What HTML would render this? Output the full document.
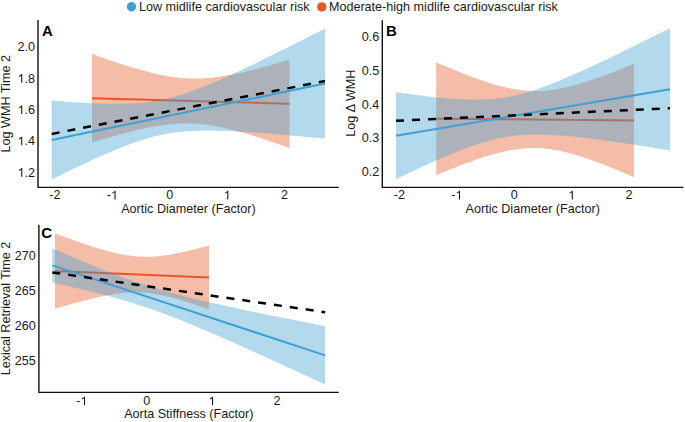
<!DOCTYPE html>
<html><head><meta charset="utf-8"><style>
html,body{margin:0;padding:0;background:#fff;}
body{width:685px;height:422px;overflow:hidden;}
svg{display:block;}
text{font-family:"Liberation Sans",sans-serif;font-size:12.6px;fill:#1a1a1a;}
</style></head><body>
<svg width="685" height="422" viewBox="0 0 685 422">
<rect width="685" height="422" fill="#fff"/>

<circle cx="131.5" cy="6.8" r="4.7" fill="#40A0D2"/>
<text x="138.9" y="10.8">Low midlife cardiovascular risk</text>
<circle cx="321.8" cy="6.9" r="4.7" fill="#E65725"/>
<text x="328.9" y="10.8">Moderate-high midlife cardiovascular risk</text>

<path d="M92.00,53.94 L95.29,55.12 L98.58,56.29 L101.88,57.45 L105.17,58.60 L108.46,59.74 L111.75,60.86 L115.04,61.97 L118.33,63.06 L121.62,64.14 L124.92,65.19 L128.21,66.23 L131.50,67.24 L134.79,68.22 L138.08,69.18 L141.38,70.11 L144.67,71.01 L147.96,71.87 L151.25,72.70 L154.54,73.49 L157.83,74.23 L161.12,74.92 L164.42,75.56 L167.71,76.15 L171.00,76.68 L174.29,77.15 L177.58,77.56 L180.88,77.90 L184.17,78.17 L187.46,78.37 L190.75,78.50 L194.04,78.56 L197.33,78.54 L200.62,78.46 L203.92,78.31 L207.21,78.09 L210.50,77.80 L213.79,77.46 L217.08,77.06 L220.38,76.60 L223.67,76.09 L226.96,75.54 L230.25,74.94 L233.54,74.30 L236.83,73.62 L240.12,72.91 L243.42,72.17 L246.71,71.40 L250.00,70.60 L253.29,69.77 L256.58,68.93 L259.88,68.06 L263.17,67.17 L266.46,66.26 L269.75,65.34 L273.04,64.41 L276.33,63.46 L279.62,62.49 L282.92,61.52 L286.21,60.53 L289.50,59.54 L289.50,148.06 L286.21,146.88 L282.92,145.71 L279.62,144.55 L276.33,143.40 L273.04,142.26 L269.75,141.14 L266.46,140.03 L263.17,138.94 L259.88,137.86 L256.58,136.81 L253.29,135.77 L250.00,134.76 L246.71,133.78 L243.42,132.82 L240.12,131.89 L236.83,130.99 L233.54,130.13 L230.25,129.30 L226.96,128.51 L223.67,127.77 L220.38,127.08 L217.08,126.44 L213.79,125.85 L210.50,125.32 L207.21,124.85 L203.92,124.44 L200.62,124.10 L197.33,123.83 L194.04,123.63 L190.75,123.50 L187.46,123.44 L184.17,123.46 L180.88,123.54 L177.58,123.69 L174.29,123.91 L171.00,124.20 L167.71,124.54 L164.42,124.94 L161.12,125.40 L157.83,125.91 L154.54,126.46 L151.25,127.06 L147.96,127.70 L144.67,128.38 L141.38,129.09 L138.08,129.83 L134.79,130.60 L131.50,131.40 L128.21,132.23 L124.92,133.07 L121.62,133.94 L118.33,134.83 L115.04,135.74 L111.75,136.66 L108.46,137.59 L105.17,138.54 L101.88,139.51 L98.58,140.48 L95.29,141.47 L92.00,142.46 Z" fill="#E65725" fill-opacity="0.4"/>
<line x1="92.0" y1="98.2" x2="289.5" y2="103.8" stroke="#E65725" stroke-width="2"/>
<path d="M51.70,100.60 L56.26,100.96 L60.81,101.31 L65.37,101.65 L69.92,101.97 L74.47,102.27 L79.03,102.56 L83.59,102.83 L88.14,103.07 L92.70,103.29 L97.25,103.48 L101.81,103.64 L106.36,103.75 L110.92,103.83 L115.47,103.86 L120.03,103.84 L124.58,103.76 L129.13,103.60 L133.69,103.37 L138.25,103.06 L142.80,102.65 L147.36,102.14 L151.91,101.52 L156.47,100.79 L161.02,99.94 L165.57,98.96 L170.13,97.87 L174.69,96.66 L179.24,95.33 L183.80,93.90 L188.35,92.37 L192.91,90.76 L197.46,89.06 L202.01,87.30 L206.57,85.46 L211.12,83.58 L215.68,81.64 L220.24,79.66 L224.79,77.63 L229.35,75.58 L233.90,73.49 L238.46,71.38 L243.01,69.24 L247.56,67.08 L252.12,64.91 L256.68,62.71 L261.23,60.50 L265.79,58.28 L270.34,56.04 L274.90,53.80 L279.45,51.54 L284.00,49.28 L288.56,47.00 L293.12,44.72 L297.67,42.43 L302.23,40.14 L306.78,37.84 L311.33,35.53 L315.89,33.22 L320.44,30.90 L325.00,28.58 L325.00,138.62 L320.44,138.18 L315.89,137.74 L311.33,137.31 L306.78,136.88 L302.23,136.46 L297.67,136.05 L293.12,135.64 L288.56,135.24 L284.00,134.84 L279.45,134.46 L274.90,134.08 L270.34,133.72 L265.79,133.36 L261.23,133.02 L256.68,132.69 L252.12,132.37 L247.56,132.08 L243.01,131.80 L238.46,131.54 L233.90,131.31 L229.35,131.10 L224.79,130.93 L220.24,130.78 L215.68,130.68 L211.12,130.62 L206.57,130.62 L202.01,130.66 L197.46,130.78 L192.91,130.96 L188.35,131.23 L183.80,131.58 L179.24,132.03 L174.69,132.58 L170.13,133.25 L165.57,134.04 L161.02,134.94 L156.47,135.97 L151.91,137.12 L147.36,138.38 L142.80,139.75 L138.25,141.22 L133.69,142.79 L129.13,144.44 L124.58,146.16 L120.03,147.96 L115.47,149.82 L110.92,151.73 L106.36,153.69 L101.81,155.68 L97.25,157.72 L92.70,159.79 L88.14,161.89 L83.59,164.01 L79.03,166.16 L74.47,168.33 L69.92,170.51 L65.37,172.71 L60.81,174.93 L56.26,177.16 L51.70,179.40 Z" fill="#40A0D2" fill-opacity="0.4"/>
<line x1="51.7" y1="140.0" x2="325.0" y2="83.6" stroke="#40A0D2" stroke-width="2"/>
<line x1="51.7" y1="133.9" x2="325.0" y2="81.1" stroke="#000" stroke-width="2.5" stroke-dasharray="8 8" stroke-dashoffset="0"/>
<path d="M38.0,20.0 V187.4 H338.8" fill="none" stroke="#111" stroke-width="1.4" stroke-linejoin="round"/>
<text x="35.10" y="176.67" text-anchor="end"><tspan style="fill:transparent">1</tspan>.2</text><path d="M0.3726,0 L0.2847,0 L0.2847,0.560 C0.2632,0.5396 0.2354,0.5193 0.2002,0.4988 C0.1655,0.4783 0.1343,0.4634 0.1089,0.4548 L0.1089,0.5398 C0.1548,0.5613 0.1948,0.5879 0.2295,0.6164 C0.2642,0.6456 0.2886,0.6739 0.3032,0.6880 L0.3726,0.6880 Z" fill="#1a1a1a" transform="translate(17.59,176.67) scale(12.6,-12.6)"/>
<text x="35.10" y="145.37" text-anchor="end"><tspan style="fill:transparent">1</tspan>.4</text><path d="M0.3726,0 L0.2847,0 L0.2847,0.560 C0.2632,0.5396 0.2354,0.5193 0.2002,0.4988 C0.1655,0.4783 0.1343,0.4634 0.1089,0.4548 L0.1089,0.5398 C0.1548,0.5613 0.1948,0.5879 0.2295,0.6164 C0.2642,0.6456 0.2886,0.6739 0.3032,0.6880 L0.3726,0.6880 Z" fill="#1a1a1a" transform="translate(17.59,145.37) scale(12.6,-12.6)"/>
<text x="35.10" y="114.07" text-anchor="end"><tspan style="fill:transparent">1</tspan>.6</text><path d="M0.3726,0 L0.2847,0 L0.2847,0.560 C0.2632,0.5396 0.2354,0.5193 0.2002,0.4988 C0.1655,0.4783 0.1343,0.4634 0.1089,0.4548 L0.1089,0.5398 C0.1548,0.5613 0.1948,0.5879 0.2295,0.6164 C0.2642,0.6456 0.2886,0.6739 0.3032,0.6880 L0.3726,0.6880 Z" fill="#1a1a1a" transform="translate(17.59,114.07) scale(12.6,-12.6)"/>
<text x="35.10" y="82.77" text-anchor="end"><tspan style="fill:transparent">1</tspan>.8</text><path d="M0.3726,0 L0.2847,0 L0.2847,0.560 C0.2632,0.5396 0.2354,0.5193 0.2002,0.4988 C0.1655,0.4783 0.1343,0.4634 0.1089,0.4548 L0.1089,0.5398 C0.1548,0.5613 0.1948,0.5879 0.2295,0.6164 C0.2642,0.6456 0.2886,0.6739 0.3032,0.6880 L0.3726,0.6880 Z" fill="#1a1a1a" transform="translate(17.59,82.77) scale(12.6,-12.6)"/>
<text x="35.10" y="51.47" text-anchor="end">2.0</text>
<text x="54.91" y="199.40" text-anchor="middle">-2</text>
<text x="112.33" y="199.40" text-anchor="middle">-<tspan style="fill:transparent">1</tspan></text><path d="M0.3726,0 L0.2847,0 L0.2847,0.560 C0.2632,0.5396 0.2354,0.5193 0.2002,0.4988 C0.1655,0.4783 0.1343,0.4634 0.1089,0.4548 L0.1089,0.5398 C0.1548,0.5613 0.1948,0.5879 0.2295,0.6164 C0.2642,0.6456 0.2886,0.6739 0.3032,0.6880 L0.3726,0.6880 Z" fill="#1a1a1a" transform="translate(110.93,199.40) scale(12.6,-12.6)"/>
<text x="169.75" y="199.40" text-anchor="middle">0</text>
<text x="227.17" y="199.40" text-anchor="middle"><tspan style="fill:transparent">1</tspan></text><path d="M0.3726,0 L0.2847,0 L0.2847,0.560 C0.2632,0.5396 0.2354,0.5193 0.2002,0.4988 C0.1655,0.4783 0.1343,0.4634 0.1089,0.4548 L0.1089,0.5398 C0.1548,0.5613 0.1948,0.5879 0.2295,0.6164 C0.2642,0.6456 0.2886,0.6739 0.3032,0.6880 L0.3726,0.6880 Z" fill="#1a1a1a" transform="translate(223.67,199.40) scale(12.6,-12.6)"/>
<text x="284.59" y="199.40" text-anchor="middle">2</text>
<text x="188.4" y="212.8" text-anchor="middle">Aortic Diameter (Factor)</text>
<text transform="translate(10.3,103.75) rotate(-90)" text-anchor="middle">Log WMH Time 2</text>
<text x="42.0" y="36.3" style="font-weight:bold;font-size:15px;fill:#000">A</text>
<path d="M436.20,62.22 L439.50,63.65 L442.79,65.07 L446.09,66.48 L449.39,67.87 L452.68,69.24 L455.98,70.59 L459.28,71.93 L462.57,73.24 L465.87,74.54 L469.17,75.80 L472.46,77.04 L475.76,78.25 L479.06,79.43 L482.35,80.58 L485.65,81.68 L488.95,82.75 L492.24,83.77 L495.54,84.74 L498.84,85.66 L502.13,86.52 L505.43,87.32 L508.73,88.06 L512.02,88.72 L515.32,89.31 L518.62,89.82 L521.91,90.24 L525.21,90.58 L528.51,90.83 L531.80,90.99 L535.10,91.05 L538.40,91.02 L541.69,90.90 L544.99,90.68 L548.29,90.38 L551.58,89.99 L554.88,89.52 L558.18,88.97 L561.47,88.35 L564.77,87.65 L568.07,86.89 L571.36,86.07 L574.66,85.20 L577.96,84.27 L581.25,83.30 L584.55,82.28 L587.85,81.22 L591.14,80.12 L594.44,78.99 L597.74,77.83 L601.03,76.64 L604.33,75.42 L607.63,74.18 L610.92,72.92 L614.22,71.63 L617.52,70.33 L620.81,69.01 L624.11,67.67 L627.41,66.32 L630.70,64.96 L634.00,63.58 L634.00,177.22 L630.70,175.78 L627.41,174.36 L624.11,172.96 L620.81,171.56 L617.52,170.19 L614.22,168.83 L610.92,167.49 L607.63,166.17 L604.33,164.87 L601.03,163.60 L597.74,162.35 L594.44,161.13 L591.14,159.94 L587.85,158.79 L584.55,157.67 L581.25,156.60 L577.96,155.57 L574.66,154.58 L571.36,153.65 L568.07,152.77 L564.77,151.96 L561.47,151.21 L558.18,150.53 L554.88,149.92 L551.58,149.39 L548.29,148.95 L544.99,148.59 L541.69,148.32 L538.40,148.14 L535.10,148.05 L531.80,148.06 L528.51,148.16 L525.21,148.35 L521.91,148.63 L518.62,149.00 L515.32,149.45 L512.02,149.98 L508.73,150.59 L505.43,151.27 L502.13,152.01 L498.84,152.82 L495.54,153.68 L492.24,154.59 L488.95,155.56 L485.65,156.57 L482.35,157.61 L479.06,158.70 L475.76,159.83 L472.46,160.98 L469.17,162.16 L465.87,163.37 L462.57,164.61 L459.28,165.87 L455.98,167.15 L452.68,168.44 L449.39,169.76 L446.09,171.09 L442.79,172.44 L439.50,173.80 L436.20,175.18 Z" fill="#E65725" fill-opacity="0.4"/>
<line x1="436.2" y1="118.7" x2="634.0" y2="120.4" stroke="#E65725" stroke-width="2"/>
<path d="M396.00,92.20 L400.57,92.85 L405.13,93.48 L409.70,94.10 L414.27,94.71 L418.83,95.29 L423.40,95.86 L427.97,96.40 L432.53,96.91 L437.10,97.40 L441.67,97.85 L446.23,98.26 L450.80,98.63 L455.37,98.96 L459.93,99.23 L464.50,99.43 L469.07,99.58 L473.63,99.64 L478.20,99.62 L482.77,99.51 L487.33,99.29 L491.90,98.96 L496.47,98.51 L501.03,97.94 L505.60,97.24 L510.17,96.41 L514.73,95.45 L519.30,94.37 L523.87,93.17 L528.43,91.85 L533.00,90.43 L537.57,88.92 L542.13,87.32 L546.70,85.64 L551.27,83.89 L555.83,82.08 L560.40,80.22 L564.97,78.31 L569.53,76.35 L574.10,74.36 L578.67,72.33 L583.23,70.27 L587.80,68.19 L592.37,66.08 L596.93,63.95 L601.50,61.81 L606.07,59.64 L610.63,57.46 L615.20,55.26 L619.77,53.06 L624.33,50.84 L628.90,48.61 L633.47,46.37 L638.03,44.12 L642.60,41.87 L647.17,39.61 L651.73,37.34 L656.30,35.06 L660.87,32.78 L665.43,30.50 L670.00,28.21 L670.00,150.39 L665.43,149.65 L660.87,148.91 L656.30,148.18 L651.73,147.45 L647.17,146.73 L642.60,146.01 L638.03,145.30 L633.47,144.60 L628.90,143.91 L624.33,143.23 L619.77,142.56 L615.20,141.90 L610.63,141.25 L606.07,140.61 L601.50,139.99 L596.93,139.39 L592.37,138.81 L587.80,138.25 L583.23,137.71 L578.67,137.20 L574.10,136.72 L569.53,136.28 L564.97,135.87 L560.40,135.50 L555.83,135.18 L551.27,134.92 L546.70,134.72 L542.13,134.59 L537.57,134.54 L533.00,134.57 L528.43,134.70 L523.87,134.93 L519.30,135.27 L514.73,135.73 L510.17,136.32 L505.60,137.04 L501.03,137.89 L496.47,138.86 L491.90,139.96 L487.33,141.18 L482.77,142.51 L478.20,143.94 L473.63,145.47 L469.07,147.08 L464.50,148.77 L459.93,150.52 L455.37,152.34 L450.80,154.21 L446.23,156.13 L441.67,158.09 L437.10,160.08 L432.53,162.12 L427.97,164.18 L423.40,166.26 L418.83,168.37 L414.27,170.51 L409.70,172.66 L405.13,174.82 L400.57,177.01 L396.00,179.20 Z" fill="#40A0D2" fill-opacity="0.4"/>
<line x1="396.0" y1="135.7" x2="670.0" y2="89.3" stroke="#40A0D2" stroke-width="2"/>
<line x1="396.0" y1="120.8" x2="670.0" y2="108.2" stroke="#000" stroke-width="2.5" stroke-dasharray="8 8" stroke-dashoffset="0"/>
<path d="M382.3,20.2 V187.4 H683.5" fill="none" stroke="#111" stroke-width="1.4" stroke-linejoin="round"/>
<text x="379.20" y="175.87" text-anchor="end">0.2</text>
<text x="379.20" y="142.20" text-anchor="end">0.3</text>
<text x="379.20" y="108.52" text-anchor="end">0.4</text>
<text x="379.20" y="74.85" text-anchor="end">0.5</text>
<text x="379.20" y="41.17" text-anchor="end">0.6</text>
<text x="399.30" y="199.40" text-anchor="middle">-2</text>
<text x="456.75" y="199.40" text-anchor="middle">-<tspan style="fill:transparent">1</tspan></text><path d="M0.3726,0 L0.2847,0 L0.2847,0.560 C0.2632,0.5396 0.2354,0.5193 0.2002,0.4988 C0.1655,0.4783 0.1343,0.4634 0.1089,0.4548 L0.1089,0.5398 C0.1548,0.5613 0.1948,0.5879 0.2295,0.6164 C0.2642,0.6456 0.2886,0.6739 0.3032,0.6880 L0.3726,0.6880 Z" fill="#1a1a1a" transform="translate(455.35,199.40) scale(12.6,-12.6)"/>
<text x="514.20" y="199.40" text-anchor="middle">0</text>
<text x="571.65" y="199.40" text-anchor="middle"><tspan style="fill:transparent">1</tspan></text><path d="M0.3726,0 L0.2847,0 L0.2847,0.560 C0.2632,0.5396 0.2354,0.5193 0.2002,0.4988 C0.1655,0.4783 0.1343,0.4634 0.1089,0.4548 L0.1089,0.5398 C0.1548,0.5613 0.1948,0.5879 0.2295,0.6164 C0.2642,0.6456 0.2886,0.6739 0.3032,0.6880 L0.3726,0.6880 Z" fill="#1a1a1a" transform="translate(568.15,199.40) scale(12.6,-12.6)"/>
<text x="629.10" y="199.40" text-anchor="middle">2</text>
<text x="532.75" y="212.8" text-anchor="middle">Aortic Diameter (Factor)</text>
<text transform="translate(355.06,103.15) rotate(-90)" text-anchor="middle">Log Δ WMH</text>
<text x="386.0" y="36.3" style="font-weight:bold;font-size:15px;fill:#000">B</text>
<path d="M55.00,233.26 L57.57,234.24 L60.13,235.21 L62.70,236.18 L65.27,237.14 L67.83,238.09 L70.40,239.03 L72.97,239.96 L75.53,240.88 L78.10,241.79 L80.67,242.69 L83.23,243.58 L85.80,244.45 L88.37,245.31 L90.93,246.16 L93.50,246.98 L96.07,247.79 L98.63,248.57 L101.20,249.33 L103.77,250.07 L106.33,250.79 L108.90,251.47 L111.47,252.12 L114.03,252.74 L116.60,253.33 L119.17,253.87 L121.73,254.38 L124.30,254.84 L126.87,255.25 L129.43,255.62 L132.00,255.94 L134.57,256.20 L137.13,256.41 L139.70,256.57 L142.27,256.67 L144.83,256.72 L147.40,256.71 L149.97,256.65 L152.53,256.54 L155.10,256.38 L157.67,256.17 L160.23,255.92 L162.80,255.62 L165.37,255.28 L167.93,254.91 L170.50,254.50 L173.07,254.05 L175.63,253.58 L178.20,253.08 L180.77,252.55 L183.33,252.00 L185.90,251.43 L188.47,250.83 L191.03,250.22 L193.60,249.59 L196.17,248.94 L198.73,248.28 L201.30,247.61 L203.87,246.93 L206.43,246.23 L209.00,245.52 L209.00,309.48 L206.43,308.55 L203.87,307.64 L201.30,306.74 L198.73,305.85 L196.17,304.97 L193.60,304.11 L191.03,303.26 L188.47,302.43 L185.90,301.62 L183.33,300.83 L180.77,300.07 L178.20,299.32 L175.63,298.60 L173.07,297.91 L170.50,297.25 L167.93,296.63 L165.37,296.03 L162.80,295.48 L160.23,294.96 L157.67,294.49 L155.10,294.07 L152.53,293.69 L149.97,293.36 L147.40,293.09 L144.83,292.86 L142.27,292.69 L139.70,292.58 L137.13,292.52 L134.57,292.51 L132.00,292.56 L129.43,292.66 L126.87,292.81 L124.30,293.01 L121.73,293.26 L119.17,293.54 L116.60,293.87 L114.03,294.24 L111.47,294.64 L108.90,295.08 L106.33,295.55 L103.77,296.04 L101.20,296.57 L98.63,297.11 L96.07,297.68 L93.50,298.27 L90.93,298.88 L88.37,299.50 L85.80,300.15 L83.23,300.80 L80.67,301.47 L78.10,302.16 L75.53,302.85 L72.97,303.56 L70.40,304.27 L67.83,305.00 L65.27,305.73 L62.70,306.47 L60.13,307.22 L57.57,307.97 L55.00,308.74 Z" fill="#E65725" fill-opacity="0.4"/>
<line x1="55.0" y1="271.0" x2="209.0" y2="277.5" stroke="#E65725" stroke-width="2"/>
<path d="M52.30,248.19 L56.85,250.20 L61.40,252.20 L65.94,254.18 L70.49,256.16 L75.04,258.11 L79.59,260.05 L84.14,261.97 L88.69,263.86 L93.23,265.74 L97.78,267.59 L102.33,269.42 L106.88,271.22 L111.43,272.98 L115.98,274.72 L120.52,276.42 L125.07,278.08 L129.62,279.71 L134.17,281.29 L138.72,282.84 L143.27,284.35 L147.81,285.81 L152.36,287.24 L156.91,288.62 L161.46,289.97 L166.01,291.28 L170.56,292.55 L175.10,293.80 L179.65,295.01 L184.20,296.19 L188.75,297.35 L193.30,298.48 L197.85,299.58 L202.39,300.67 L206.94,301.74 L211.49,302.79 L216.04,303.82 L220.59,304.84 L225.14,305.85 L229.68,306.84 L234.23,307.83 L238.78,308.80 L243.33,309.76 L247.88,310.72 L252.43,311.67 L256.97,312.61 L261.52,313.54 L266.07,314.47 L270.62,315.39 L275.17,316.31 L279.72,317.22 L284.26,318.13 L288.81,319.03 L293.36,319.93 L297.91,320.83 L302.46,321.72 L307.01,322.61 L311.56,323.50 L316.10,324.38 L320.65,325.26 L325.20,326.14 L325.20,384.66 L320.65,382.54 L316.10,380.42 L311.56,378.30 L307.01,376.19 L302.46,374.08 L297.91,371.97 L293.36,369.87 L288.81,367.77 L284.26,365.67 L279.72,363.58 L275.17,361.49 L270.62,359.41 L266.07,357.33 L261.52,355.26 L256.97,353.19 L252.43,351.13 L247.88,349.08 L243.33,347.04 L238.78,345.00 L234.23,342.97 L229.68,340.96 L225.14,338.95 L220.59,336.96 L216.04,334.98 L211.49,333.01 L206.94,331.06 L202.39,329.13 L197.85,327.22 L193.30,325.32 L188.75,323.45 L184.20,321.61 L179.65,319.79 L175.10,318.00 L170.56,316.25 L166.01,314.52 L161.46,312.83 L156.91,311.18 L152.36,309.56 L147.81,307.99 L143.27,306.45 L138.72,304.96 L134.17,303.51 L129.62,302.09 L125.07,300.72 L120.52,299.38 L115.98,298.08 L111.43,296.82 L106.88,295.58 L102.33,294.38 L97.78,293.21 L93.23,292.06 L88.69,290.94 L84.14,289.83 L79.59,288.75 L75.04,287.69 L70.49,286.64 L65.94,285.62 L61.40,284.60 L56.85,283.60 L52.30,282.61 Z" fill="#40A0D2" fill-opacity="0.4"/>
<line x1="52.3" y1="265.4" x2="325.2" y2="355.4" stroke="#40A0D2" stroke-width="2"/>
<line x1="52.3" y1="272.4" x2="325.2" y2="312.2" stroke="#000" stroke-width="2.5" stroke-dasharray="8 8" stroke-dashoffset="0"/>
<path d="M38.9,224.8 V392.4 H338.7" fill="none" stroke="#111" stroke-width="1.4" stroke-linejoin="round"/>
<text x="35.85" y="365.17" text-anchor="end">255</text>
<text x="35.85" y="330.10" text-anchor="end">260</text>
<text x="35.85" y="295.04" text-anchor="end">265</text>
<text x="35.85" y="259.97" text-anchor="end">270</text>
<text x="81.78" y="405.30" text-anchor="middle">-<tspan style="fill:transparent">1</tspan></text><path d="M0.3726,0 L0.2847,0 L0.2847,0.560 C0.2632,0.5396 0.2354,0.5193 0.2002,0.4988 C0.1655,0.4783 0.1343,0.4634 0.1089,0.4548 L0.1089,0.5398 C0.1548,0.5613 0.1948,0.5879 0.2295,0.6164 C0.2642,0.6456 0.2886,0.6739 0.3032,0.6880 L0.3726,0.6880 Z" fill="#1a1a1a" transform="translate(80.38,405.30) scale(12.6,-12.6)"/>
<text x="146.85" y="405.30" text-anchor="middle">0</text>
<text x="211.92" y="405.30" text-anchor="middle"><tspan style="fill:transparent">1</tspan></text><path d="M0.3726,0 L0.2847,0 L0.2847,0.560 C0.2632,0.5396 0.2354,0.5193 0.2002,0.4988 C0.1655,0.4783 0.1343,0.4634 0.1089,0.4548 L0.1089,0.5398 C0.1548,0.5613 0.1948,0.5879 0.2295,0.6164 C0.2642,0.6456 0.2886,0.6739 0.3032,0.6880 L0.3726,0.6880 Z" fill="#1a1a1a" transform="translate(208.42,405.30) scale(12.6,-12.6)"/>
<text x="276.99" y="405.30" text-anchor="middle">2</text>
<text x="188.75" y="417.9" text-anchor="middle">Aorta Stiffness (Factor)</text>
<text transform="translate(10.2,308.5) rotate(-90)" text-anchor="middle">Lexical Retrieval Time 2</text>
<text x="41.3" y="238.2" style="font-weight:bold;font-size:15px;fill:#000">C</text>
</svg>
</body></html>
